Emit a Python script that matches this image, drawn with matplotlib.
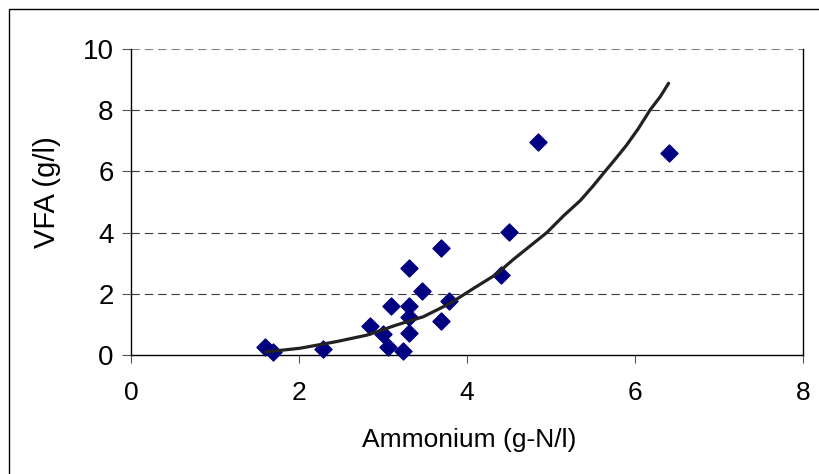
import matplotlib
matplotlib.use("Agg")
import matplotlib.pyplot as plt
from matplotlib.patches import Rectangle

plt.rcParams['font.family'] = ['Liberation Sans', 'DejaVu Sans']

# Data
ammonium = [1.60, 1.69, 2.29, 2.84, 3.00, 3.06, 3.10, 3.24, 3.31, 3.31,
            3.31, 3.31, 3.47, 3.69, 3.69, 3.79, 4.40, 4.50, 4.85, 6.40]
vfa = [0.27, 0.11, 0.20, 0.95, 0.68, 0.27, 1.60, 0.14, 2.83, 1.61,
       1.23, 0.71, 2.10, 3.51, 1.11, 1.78, 2.61, 4.01, 6.97, 6.59]

# trend line, traced point by point
trend_x = [1.60, 2.01, 2.45, 2.81, 3.16, 3.48, 3.80, 4.08, 4.35, 4.55,
           4.95, 5.15, 5.35, 5.50, 5.64, 5.78, 5.90, 6.04, 6.18, 6.30, 6.40]
trend_y = [0.10, 0.22, 0.44, 0.65, 0.98, 1.25, 1.69, 2.18, 2.64, 3.12,
           4.00, 4.55, 5.05, 5.52, 5.99, 6.45, 6.86, 7.40, 8.01, 8.44, 8.88]

x_ticks = [0, 2, 4, 6, 8]
y_ticks = [0, 2, 4, 6, 8, 10]

fig = plt.figure(figsize=(8.19, 4.74), dpi=100)
ax = fig.add_axes([131/819, 1 - 355/474, 672/819, 306/474])

# outer chart border (runs off the right and bottom edge)
fig.patches.append(Rectangle((9/819, -0.05), 1.0, 1 - 9/474 + 0.05,
                             transform=fig.transFigure, fill=False,
                             edgecolor='black', linewidth=1.0))

ax.scatter(ammonium, vfa, marker='D', s=75, color='#000080',
           edgecolors='#000080', zorder=3, clip_on=False)
ax.plot(trend_x, trend_y, color='#222222', linewidth=2.3, zorder=4,
        solid_capstyle='round', solid_joinstyle='round')

ax.set_xlim(0, 8)
ax.set_ylim(0, 10)
ax.set_xticks(x_ticks)
ax.set_yticks(y_ticks)

for yv in y_ticks[1:]:
    ax.axhline(yv, color='#3a3a3a' if yv < 10 else '#808080', linewidth=0.8,
               linestyle=(0, (7.5, 4.5)), zorder=1)

ax.spines['top'].set_visible(False)
for s in ['left', 'bottom', 'right']:
    ax.spines[s].set_linewidth(1.0)
    ax.spines[s].set_color('black')

ax.tick_params(axis='y', direction='out', length=6.5, width=0.8,
               labelsize=20, pad=6, color='#555555')
ax.tick_params(axis='x', direction='out', length=6, width=0.8,
               labelsize=19, pad=13, color='#555555')

ax.set_xlabel('Ammonium (g-N/l)', fontsize=19)
ax.set_ylabel('VFA (g/l)', fontsize=21)
ax.xaxis.set_label_coords(0.503, -0.278)
ax.xaxis.label.set_va('center')
ax.yaxis.set_label_coords(-0.125, 0.533)
ax.yaxis.label.set_va('center')

fig.savefig('out.png', dpi=100)
